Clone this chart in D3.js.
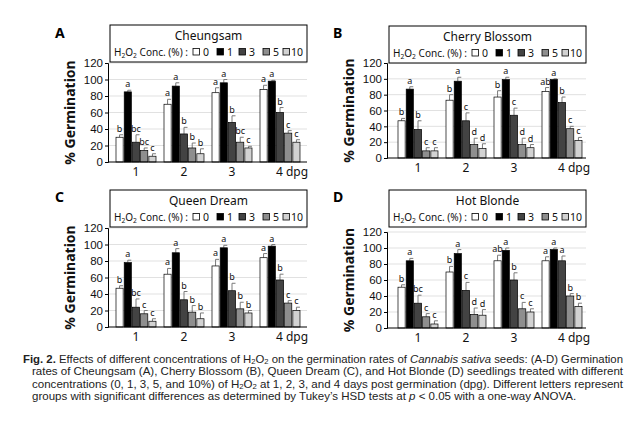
<!DOCTYPE html>
<html>
<head>
<meta charset="utf-8">
<script src="https://cdn.jsdelivr.net/npm/d3@7"></script>
<style>
  body { margin: 0; background: #fff; }
  svg { font-family: "Noto Sans", "DejaVu Sans", sans-serif; }
</style>
</head>
<body>
<script>
const width = 635
const height = 424

// data
const days = ['1', '2', '3', '4 dpg']
const concs = ['0', '1', '3', '5', '10']
const varieties = ['Cheungsam', 'Cherry Blossom', 'Queen Dream', 'Hot Blonde']
const panelLetters = ['A', 'B', 'C', 'D']
const yTicks = [0, 20, 40, 60, 80, 100, 120]

// mean[day][conc]
const cheungsamMean = [[30, 85, 24, 14, 7], [70, 92, 34, 17, 10], [84, 96, 48, 24, 17], [88, 98, 60, 35, 24]]
const cheungsamErr = [[3, 2, 9, 3, 3], [6, 4, 8, 6, 6], [6, 4, 8, 6, 2], [5, 1, 6, 3, 3]]
const cheungsamLetters = [['b', 'a', 'bc', 'bc', 'c'], ['a', 'a', 'b', 'b', 'b'], ['a', 'a', 'b', 'bc', 'c'], ['a', 'a', 'b', 'c', 'c']]

const cherryMean = [[47, 87, 36, 9, 9], [73, 97, 47, 17, 12], [77, 99, 54, 17, 13], [84, 99, 70, 37, 22]]
const cherryErr = [[3, 3, 11, 4, 4], [7, 5, 10, 8, 6], [8, 3, 9, 8, 4], [5, 1, 7, 3, 4]]
const cherryLetters = [['b', 'a', 'b', 'c', 'c'], ['b', 'a', 'c', 'd', 'd'], ['b', 'a', 'c', 'd', 'd'], ['ab', 'a', 'b', 'c', 'c']]

const queenMean = [[47, 78, 24, 16, 7], [64, 90, 33, 18, 10], [74, 96, 44, 22, 17], [84, 98, 57, 29, 20]]
const queenErr = [[3, 3, 10, 4, 3], [7, 5, 10, 8, 7], [8, 3, 9, 8, 3], [5, 2, 7, 3, 4]]
const queenLetters = [['b', 'a', 'bc', 'c', 'c'], ['a', 'a', 'b', 'b', 'b'], ['a', 'a', 'b', 'b', 'b'], ['a', 'a', 'b', 'c', 'c']]

const hotMean = [[51, 84, 31, 14, 5], [70, 93, 47, 17, 16], [84, 97, 60, 24, 20], [84, 98, 84, 40, 27]]
const hotErr = [[3, 3, 10, 4, 4], [7, 5, 10, 8, 7], [7, 3, 9, 8, 4], [5, 2, 6, 3, 4]]
const hotLetters = [['b', 'a', 'bc', 'c', 'c'], ['b', 'a', 'c', 'd', 'd'], ['ab', 'a', 'b', 'c', 'c'], ['a', 'a', 'a', 'b', 'b']]

const means = [cheungsamMean, cherryMean, queenMean, hotMean]
const errs = [cheungsamErr, cherryErr, queenErr, hotErr]
const letters = [cheungsamLetters, cherryLetters, queenLetters, hotLetters]

const fills = ['#ffffff', '#000000', '#434343', '#8e8e8e', '#d2d2d2']

// layout per panel
const panels = [
  { ax: 108, x0: 112, y0: 162, y1: 63, top: 25, lx: 55, ly: 38 },
  { ax: 387, x0: 394, y0: 158, y1: 63, top: 26, lx: 333, ly: 38 },
  { ax: 108, x0: 112, y0: 327, y1: 228, top: 190, lx: 55, ly: 202 },
  { ax: 387, x0: 394, y0: 328, y1: 232, top: 190, lx: 333, ly: 202 }
]

const svg = d3.select('body').append('svg')
  .attr('width', width)
  .attr('height', height)

// text with subscripts: parts = [[text, style]], style 'sub' | 'b' | 'i' | ''
function richText(t, parts, subSize, shift) {
  let shifted = false
  parts.forEach(([s, st]) => {
    const ts = t.append('tspan').text(s)
    if (st === 'sub') {
      ts.attr('font-size', subSize).attr('dy', shifted ? 0 : shift)
      shifted = true
    } else {
      if (shifted) ts.attr('dy', -shift)
      shifted = false
      if (st === 'b') ts.attr('font-weight', 'bold')
      if (st === 'i') ts.attr('font-style', 'italic')
    }
  })
}

panels.forEach((p, i) => {
  const g = svg.append('g')
  const y = d3.scaleLinear().domain([0, 120]).range([p.y0, p.y1])
  const x = d3.scaleBand().domain(days).range([p.x0, p.x0 + 192])
  const xi = d3.scaleBand().domain(concs).range([4, 44]).paddingInner(0.13)
  const right = p.ax + 199

  // grid
  g.selectAll('.grid').data(yTicks.slice(1)).enter().append('line')
    .attr('x1', p.ax).attr('x2', right)
    .attr('y1', d => y(d)).attr('y2', d => y(d))
    .attr('stroke', '#d9d9d9').attr('stroke-width', 0.8)

  const yAxis = g.append('g')
    .attr('transform', `translate(${p.ax},0)`)
    .call(d3.axisLeft(y).tickValues(yTicks).tickSize(3).tickPadding(2))
  yAxis.select('.domain').attr('stroke', '#000')
  yAxis.selectAll('text').attr('font-size', 11.5).attr('fill', '#111')

  // bars
  const groups = g.selectAll('.day').data(days).enter().append('g')
    .attr('transform', d => `translate(${x(d)},0)`)

  groups.each(function(day, di) {
    const gg = d3.select(this)
    const rows = concs.map((c, ci) => ({ c, ci, v: means[i][di][ci], e: errs[i][di][ci], l: letters[i][di][ci] }))
    gg.selectAll('line.err').data(rows).enter().append('line')
      .attr('x1', d => xi(d.c) + xi.bandwidth() / 2)
      .attr('x2', d => xi(d.c) + xi.bandwidth() / 2)
      .attr('y1', d => y(d.v)).attr('y2', d => y(d.v + d.e))
      .attr('stroke', '#7a7a7a').attr('stroke-width', 1)
    gg.selectAll('line.cap').data(rows).enter().append('line')
      .attr('x1', d => xi(d.c) + xi.bandwidth() / 2)
      .attr('x2', d => xi(d.c) + xi.bandwidth() / 2 + 3.5)
      .attr('y1', d => y(d.v + d.e)).attr('y2', d => y(d.v + d.e))
      .attr('stroke', '#7a7a7a').attr('stroke-width', 1)
    gg.selectAll('rect').data(rows).enter().append('rect')
      .attr('x', d => xi(d.c))
      .attr('width', xi.bandwidth())
      .attr('y', d => y(d.v))
      .attr('height', d => y(0) - y(d.v))
      .attr('fill', d => fills[d.ci])
      .attr('stroke', '#000').attr('stroke-width', 0.7)
    gg.selectAll('text').data(rows).enter().append('text')
      .attr('x', d => xi(d.c) + xi.bandwidth() / 2)
      .attr('y', d => y(d.v + d.e) - 3)
      .attr('text-anchor', 'middle')
      .attr('font-size', 9)
      .attr('fill', '#111')
      .text(d => d.l)
  })

  // baseline
  g.append('line').attr('x1', p.ax).attr('x2', right)
    .attr('y1', y(0)).attr('y2', y(0)).attr('stroke', '#000')

  // day labels
  g.selectAll('.dl').data(days).enter().append('text')
    .attr('x', d => x(d) + x.bandwidth() / 2 + (d.length > 1 ? -4 : 0))
    .attr('y', y(0) + 14)
    .attr('text-anchor', d => d.length > 1 ? 'start' : 'middle')
    .attr('font-size', 12)
    .attr('fill', '#111')
    .text(d => d)

  // y label
  g.append('text')
    .attr('transform', `translate(${p.ax - 33},${(p.y0 + p.y1) / 2}) rotate(-90)`)
    .attr('text-anchor', 'middle')
    .attr('font-size', 14)
    .attr('font-weight', 'bold')
    .attr('fill', '#111')
    .text('% Germination')

  // panel letter
  g.append('text')
    .attr('x', p.lx).attr('y', p.ly)
    .attr('font-size', 14).attr('font-weight', 'bold')
    .text(panelLetters[i])

  // legend box
  const bx = p.ax + 2
  const lg = g.append('g').attr('transform', `translate(${bx},${p.top})`)
  lg.append('rect').attr('width', 197).attr('height', 37)
    .attr('fill', '#fff').attr('stroke', '#000').attr('stroke-width', 1)
  lg.append('text').attr('x', 98.5).attr('y', 15)
    .attr('text-anchor', 'middle').attr('font-size', 12).attr('fill', '#111')
    .text(varieties[i])
  const t = lg.append('text').attr('x', 4).attr('y', 31).attr('font-size', 10.5).attr('fill', '#111')
    .attr('textLength', 74).attr('lengthAdjust', 'spacingAndGlyphs')
  richText(t, [['H', ''], ['2', 'sub'], ['O', ''], ['2', 'sub'], [' Conc. (%) :', '']], 7, 2)
  const sq = d3.scaleOrdinal().domain(concs).range([83, 107, 129, 153, 173])
  lg.selectAll('.sq').data(concs).enter().append('rect')
    .attr('x', d => sq(d)).attr('y', 23.5).attr('width', 6.5).attr('height', 6.5)
    .attr('fill', (d, k) => fills[k]).attr('stroke', '#000').attr('stroke-width', 0.8)
  lg.selectAll('.sqt').data(concs).enter().append('text')
    .attr('x', d => sq(d) + (d === '10' ? 8 : 10)).attr('y', 31)
    .attr('font-size', 10.5).attr('fill', '#111')
    .text(d => d)
})

// caption
const cap = svg.append('g').attr('font-size', 10.5).attr('fill', '#222')
  .attr('font-family', '"Liberation Sans", Arial, sans-serif')

const captionLines = [
  { x: 23, y: 362.5, end: 623, parts: [['Fig. 2.', 'b'], [' Effects of different concentrations of H', ''], ['2', 'sub'], ['O', ''], ['2', 'sub'], [' on the germination rates of ', ''], ['Cannabis sativa', 'i'], [' seeds: (A-D) Germination', '']] },
  { x: 32, y: 375, end: 623, parts: [['rates of Cheungsam (A), Cherry Blossom (B), Queen Dream (C), and Hot Blonde (D) seedlings treated with different', '']] },
  { x: 32, y: 387.5, end: 623, parts: [['concentrations (0, 1, 3, 5, and 10%) of H', ''], ['2', 'sub'], ['O', ''], ['2', 'sub'], [' at 1, 2, 3, and 4 days post germination (dpg). Different letters represent', '']] },
  { x: 32, y: 400, end: null, parts: [['groups with significant differences as determined by Tukey\u2019s HSD tests at ', ''], ['p', 'i'], [' < 0.05 with a one-way ANOVA.', '']] }
]
const capTexts = captionLines.map(l => {
  const t = cap.append('text').attr('x', l.x).attr('y', l.y)
  richText(t, l.parts, 7, 1.2)
  return t
})
// squeeze all lines by the same ratio (taken from line 2), justify full lines
const ratio = (captionLines[1].end - captionLines[1].x) / capTexts[1].node().getComputedTextLength()
capTexts.forEach((t, k) => {
  const l = captionLines[k]
  const len = l.end ? l.end - l.x : t.node().getComputedTextLength() * ratio
  t.attr('textLength', len).attr('lengthAdjust', 'spacingAndGlyphs')
})
</script>
</body>
</html>
